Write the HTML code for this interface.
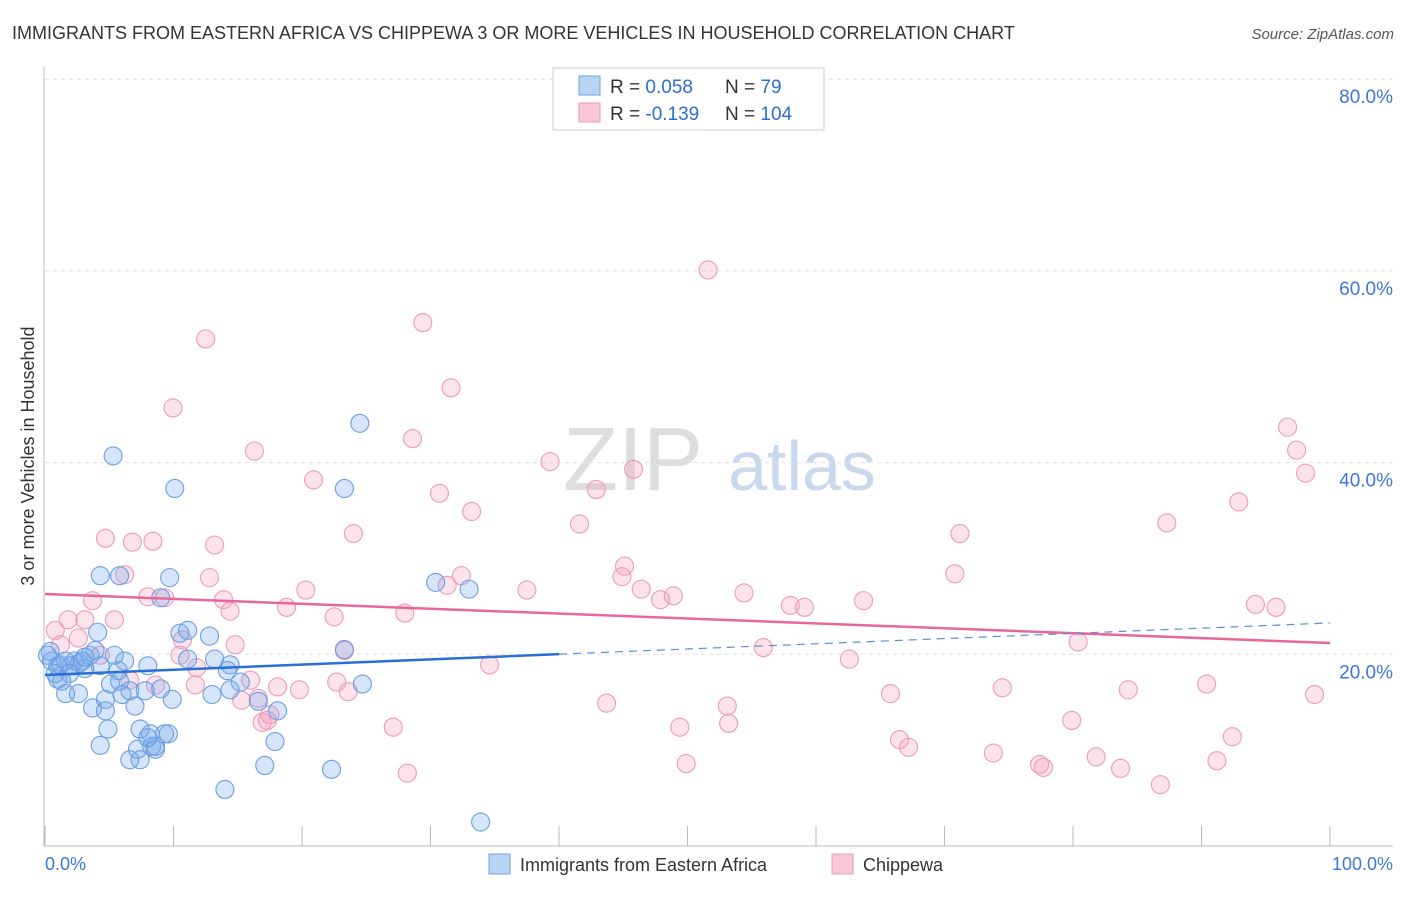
<!DOCTYPE html>
<html><head><meta charset="utf-8"><style>
body{margin:0;background:#fff;font-family:"Liberation Sans",sans-serif;}
svg text{font-family:"Liberation Sans",sans-serif;}
</style></head><body>
<svg id="chart" width="1406" height="892" xmlns="http://www.w3.org/2000/svg">
<text x="12" y="39" font-size="18" fill="#333">IMMIGRANTS FROM EASTERN AFRICA VS CHIPPEWA 3 OR MORE VEHICLES IN HOUSEHOLD CORRELATION CHART</text>
<text x="1394" y="39" font-size="15" fill="#555" text-anchor="end" font-style="italic">Source: ZipAtlas.com</text>
<text x="633" y="490" font-size="90" fill="#ddd" font-family="Liberation Serif" text-anchor="middle">ZIP</text>
<text x="802" y="490" font-size="70" fill="#c8d8ef" text-anchor="middle">atlas</text>
<text transform="translate(34,456) rotate(-90)" font-size="18" fill="#333" text-anchor="middle">3 or more Vehicles in Household</text>
<g id="grid"></g><g id="axes"></g><g id="pts"></g><g id="trend"></g>
<g>
<rect x="553" y="68" width="271" height="62" fill="#fff" stroke="#ccc"/>
<rect x="579" y="76" width="21" height="19" fill="#b9d3f3" stroke="#6fa3e0"/>
<rect x="579" y="103" width="21" height="19" fill="#f8c8d7" stroke="#ee9ab8"/>
<text x="610" y="93" font-size="19" fill="#333">R = <tspan fill="#2b6fd1"> 0.058</tspan></text>
<text x="725" y="93" font-size="19" fill="#333">N = <tspan fill="#2b6fd1">  79</tspan></text>
<text x="610" y="120" font-size="19" fill="#333">R = <tspan fill="#2b6fd1">-0.139</tspan></text>
<text x="725" y="120" font-size="19" fill="#333">N = <tspan fill="#2b6fd1">104</tspan></text>
</g>
<g>
<rect x="489" y="854" width="21" height="20" fill="#b9d3f3" stroke="#6fa3e0"/>
<text x="520" y="871" font-size="18" fill="#333">Immigrants from Eastern Africa</text>
<rect x="832" y="854" width="21" height="20" fill="#f8c8d7" stroke="#ee9ab8"/>
<text x="863" y="871" font-size="18" fill="#333">Chippewa</text>
</g>
<text x="45" y="870" font-size="18" fill="#3b78d8">0.0%</text>
<text x="1393" y="870" font-size="18" fill="#3b78d8" text-anchor="end">100.0%</text>
</svg>
<script>
const blueX=[0.5,0.8,1,0.4,1.2,1.6,2,2.3,2.7,3.1,3.5,3.9,4.1,4.3,4.7,4.9,5.1,5.4,5.7,5.8,6,6.2,6.6,7,7.4,7.8,8,8.2,8.3,8.6,9,9.3,9.7,9.9,10.1,10.5,11.1,12.8,13,13.2,14.2,14.4,15.2,16.6,17.9,18.1,17.1,22.3,23.3,23.3,24.5,24.7,30.4,33,33.9,14,5.3,4.3,3.7,6.6,7.4,8.6,9.6,2.6,1.6,1,0.2,1.9,2.9,9,4.7,8,7.2,4.3,1.3,3.1,5.8,11.1,14.4];
const blueY=[19.3,18,17.4,20.3,18.9,19.3,18.8,19.3,19.1,18.5,19.9,20.4,22.3,28.2,15.3,12.2,16.9,19.9,18.3,28.2,15.8,19.3,16.2,14.6,12.2,16.2,18.8,11.7,10.4,10.4,25.9,11.7,28,15.3,37.3,22.2,22.5,21.9,15.8,19.5,18.3,18.9,17.1,15.1,10.9,14.1,8.4,8,37.3,20.5,44.1,16.9,27.5,26.8,2.5,5.9,40.7,10.5,14.4,9,9,10.1,11.7,15.9,15.9,18.8,19.9,18,19.3,16.4,14.1,11.3,10.1,18.8,17.2,19.7,17.2,19.5,16.3];
const pinkX=[51.6,29.4,12.5,31.6,9.96,16.3,28.6,20.9,39.3,45.8,30.7,33.2,42.9,24.0,41.6,4.7,6.8,8.4,13.2,45.1,44.9,32.4,31.3,71.2,87.3,92.9,96.7,97.4,98.1,70.8,6.2,12.8,20.3,37.5,46.4,47.9,48.9,54.4,58,59.1,63.7,94.2,95.8,3.7,8,9.3,13.9,14.4,18.8,22.5,28,5.4,1.8,0.8,2.6,1.2,10.7,14.8,23.3,55.9,80.4,34.6,62.6,10.5,11.8,8.6,22.7,23.6,18.1,19.8,15.3,16.6,11.7,27.1,16.9,17.3,43.7,49.4,53.1,53.2,65.8,74.5,84.3,90.4,98.8,79.9,66.5,67.2,73.8,77.4,77.7,81.8,83.7,92.4,91.2,86.8,49.9,28.2,6.6,4.3,3.1,17.5,16];
const pinkY=[60.1,54.6,52.9,47.8,45.7,41.2,42.5,38.2,40.1,39.3,36.8,34.9,37.2,32.6,33.6,32.1,31.7,31.8,31.4,29.2,28.1,28.2,27.2,32.6,33.7,35.9,43.7,41.3,38.9,28.4,28.3,28.0,26.7,26.7,26.8,25.7,26.1,26.4,25.1,24.9,25.6,25.2,24.9,25.6,26.0,25.9,25.7,24.5,24.9,23.9,24.3,23.6,23.6,22.5,21.7,21.0,21.5,21.0,20.4,20.7,21.3,18.9,19.5,19.9,18.6,16.8,17.1,16.1,16.6,16.3,15.2,15.4,16.8,12.4,12.9,13.1,14.9,12.4,14.6,12.8,15.9,16.5,16.3,16.9,15.8,13.1,11.1,10.3,9.7,8.5,8.2,9.3,8.1,11.4,8.9,6.4,8.6,7.6,17.3,19.9,23.6,13.7,17.3];
const yTicks=[20,40,60,80];
const yTickLabels=["20.0%","40.0%","60.0%","80.0%"];
const xTicks=[0,10,20,30,40,50,60,70,80,90,100];
const blueTrend=[17.84,23.27];
const pinkTrend=[26.29,21.18];
const blueSolidEnd=40;

const NS="http://www.w3.org/2000/svg";
const X0=45,X1=1330,Y0=846,PX_PER=9.585;
function sx(v){return X0+(X1-X0)*v/100;}
function sy(v){return Y0-v*PX_PER;}
function mk(tag,attrs,parent){const e=document.createElementNS(NS,tag);for(const k in attrs)e.setAttribute(k,attrs[k]);parent.appendChild(e);return e;}
const grid=document.getElementById('grid'),axes=document.getElementById('axes'),pts=document.getElementById('pts'),trend=document.getElementById('trend');
yTicks.forEach((t,i)=>{
  const l=mk('line',{x1:45,x2:1393,y1:sy(t),y2:sy(t),stroke:'#e0e0e0','stroke-dasharray':'4,4'},grid);
  
  
  const tx=mk('text',{x:1393,y:sy(t)+24,'font-size':19,fill:'#3b78d8','text-anchor':'end'},grid);
  tx.textContent=yTickLabels[i];
  
  
});
const ya=mk('line',{x1:44,x2:44,y1:67,y2:Y0,stroke:'#bbb'},axes);


const xa=mk('line',{x1:44,x2:1393,y1:Y0,y2:Y0,stroke:'#bbb'},axes);


xTicks.forEach(t=>{
  const l=mk('line',{x1:sx(t),x2:sx(t),y1:826,y2:Y0,stroke:'#bbb'},axes);
  
  
});
function drawPts(xs,ys,fill,stroke,name){
  const n=Math.min(xs.length,ys.length);
  for(let i=0;i<n;i++){
    const c=mk('circle',{cx:sx(xs[i]),cy:sy(ys[i]),r:9,fill:fill,stroke:stroke,'stroke-width':1.1},pts);
    
    
  }
}
drawPts(pinkX,pinkY,'rgba(242,160,188,0.3)','#ee9ab8','chippewa-point');
drawPts(blueX,blueY,'rgba(120,170,235,0.3)','#6a9fe0','eastern-africa-point');
function ty(tr,x){return tr[0]+(tr[1]-tr[0])*x/100;}
const pl=mk('line',{x1:sx(0),y1:sy(pinkTrend[0]),x2:sx(100),y2:sy(pinkTrend[1]),stroke:'#e8679a','stroke-width':2.5},trend);


const bl=mk('line',{x1:sx(0),y1:sy(blueTrend[0]),x2:sx(blueSolidEnd),y2:sy(ty(blueTrend,blueSolidEnd)),stroke:'#2a6fd4','stroke-width':2.5},trend);


const bd=mk('line',{x1:sx(blueSolidEnd),y1:sy(ty(blueTrend,blueSolidEnd)),x2:sx(100),y2:sy(blueTrend[1]),stroke:'#5b8fd8','stroke-width':1.2,'stroke-dasharray':'8,6'},trend);


</script>
</body></html>
